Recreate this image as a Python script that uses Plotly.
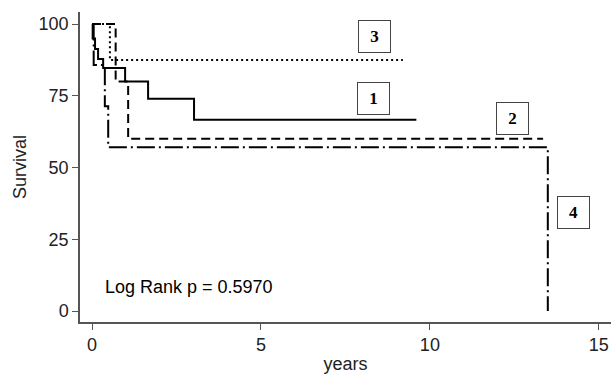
import plotly.graph_objects as go

# Kaplan-Meier step data (years, survival %)
g1_x = [0, 0.02, 0.09, 0.18, 0.33, 0.98, 1.66, 3.02, 9.6]
g1_y = [100, 95, 91.3, 87.8, 84.7, 80, 74, 66.7, 66.7]
g2_x = [0, 0.7, 1.07, 13.35]
g2_y = [100, 80, 60, 60]
g3_x = [0, 0.53, 9.2]
g3_y = [100, 87.5, 87.5]
g4_x = [0, 0.05, 0.38, 0.48, 13.49]
g4_y = [100, 85.7, 71.4, 57.1, 0]

labels = ["1", "2", "3", "4"]
label_x = [8.34, 12.43, 8.37, 14.26]
label_y = [73.9, 67.0, 95.5, 34.5]

x_ticks = [0, 5, 10, 15]
y_ticks = [0, 25, 50, 75, 100]
p_text = "Log Rank p = 0.5970"

fig = go.Figure()
styles = [
    (g1_x, g1_y, "solid", 2),
    (g2_x, g2_y, "9px,5px", 2),
    (g3_x, g3_y, "2px,3px", 2),
    (g4_x, g4_y, "18px,4px,2px,4px", 2),
]
for xs, ys, dash, w in styles:
    fig.add_trace(go.Scatter(x=xs, y=ys, mode="lines",
                             line=dict(shape="hv", color="black", width=w, dash=dash),
                             showlegend=False, hoverinfo="skip"))

for t, lx, ly in zip(labels, label_x, label_y):
    fig.add_annotation(x=lx, y=ly, text="<b>%s</b>" % t, showarrow=False,
                       font=dict(family="Liberation Serif", size=17, color="black"),
                       bordercolor="#444", borderwidth=1, borderpad=1,
                       width=29, height=29, bgcolor="white")

fig.add_annotation(x=0.33, y=8.5, text=p_text, showarrow=False, xanchor="left",
                   font=dict(family="Liberation Sans", size=18, color="black"))

axis_font = dict(family="Liberation Sans", size=18, color="#222")
fig.update_layout(
    width=611, height=374,
    margin=dict(l=80, r=0, t=12, b=52),
    paper_bgcolor="white", plot_bgcolor="white",
    xaxis=dict(range=[-0.355, 15.36], tickvals=x_ticks, ticks="outside", ticklen=6,
               tickcolor="#555", showline=True, linecolor="#555", linewidth=1.5,
               showgrid=False, zeroline=False, tickfont=axis_font, automargin=False,
               title=dict(text="years", font=axis_font, standoff=4)),
    yaxis=dict(range=[-3.8, 104.2], tickvals=y_ticks, ticks="outside", ticklen=6,
               tickcolor="#555", showline=True, linecolor="#555", linewidth=1.5,
               showgrid=False, zeroline=False, tickfont=axis_font, automargin=False,
               title=dict(text="Survival", font=axis_font, standoff=7)),
)
fig.write_html("out.html", config={"displayModeBar": False},
               post_script="document.body.style.margin='0';document.body.style.padding='0';")
